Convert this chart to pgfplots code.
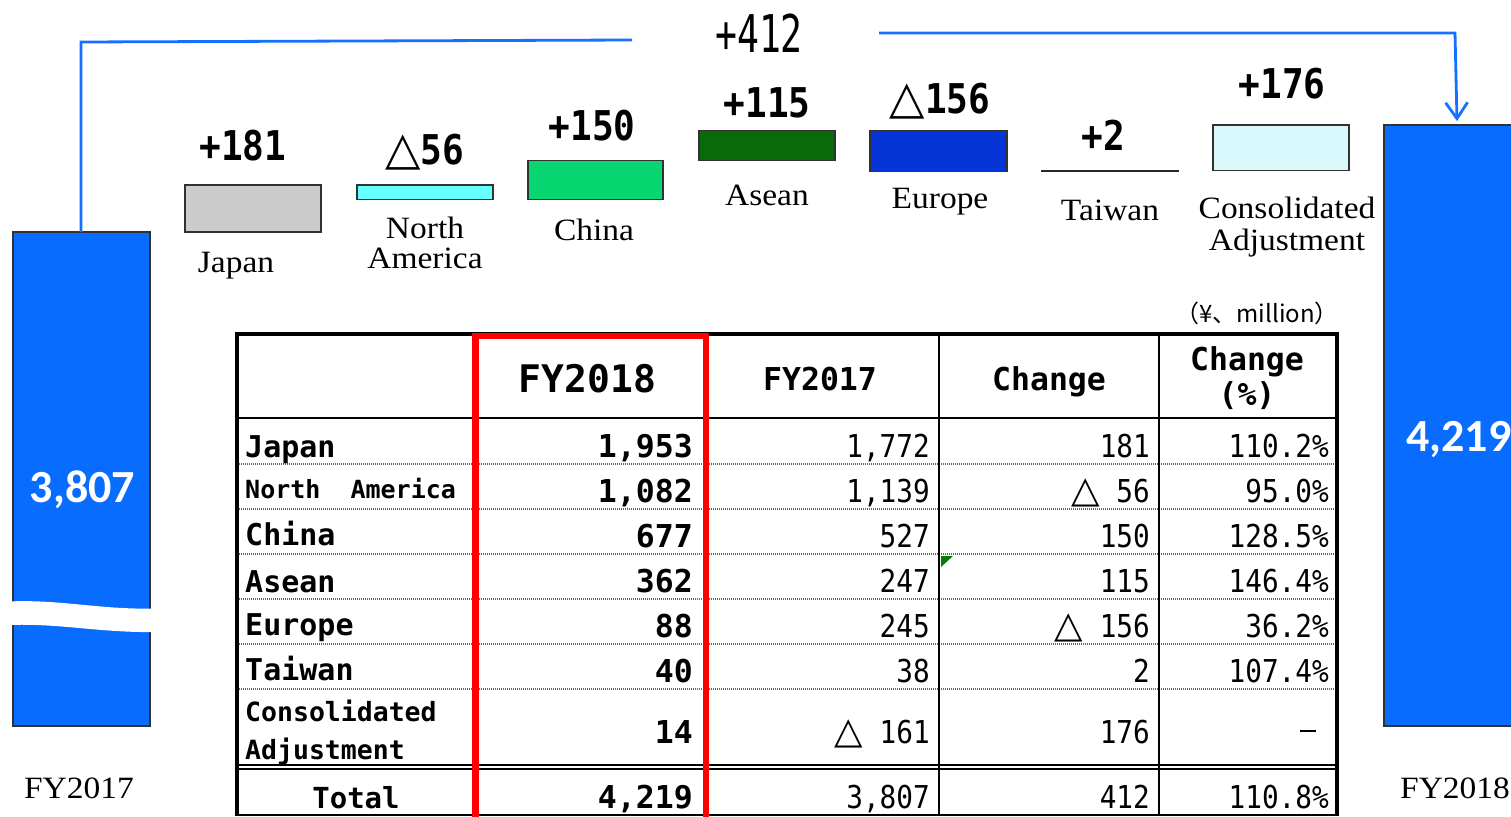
\documentclass[border=0pt]{standalone}
\usepackage{fontspec}
\usepackage{pgfplots}
\pgfplotsset{compat=1.18}
\usetikzlibrary{arrows.meta}
\setmainfont{Liberation Serif}[FakeStretch=1.08]
\newfontfamily\tmono{DejaVu Sans Mono}
\newfontfamily\tmonoN{DejaVu Sans Mono}[FakeStretch=0.88]
\newfontfamily\narrow{DejaVu Sans Mono}[FakeStretch=0.7]
\newfontfamily\djv{DejaVu Sans}
\newfontfamily\carl{Carlito}
\newfontfamily\jp{Noto Sans CJK JP}
\newcommand\fs[1]{\fontsize{#1}{#1}\selectfont}
\definecolor{cbig}{RGB}{8,108,255}
\definecolor{cjapan}{RGB}{204,204,204}
\definecolor{cna}{RGB}{102,255,255}
\definecolor{cchina}{RGB}{8,214,112}
\definecolor{casean}{RGB}{8,106,8}
\definecolor{ceurope}{RGB}{5,53,214}
\definecolor{cconsol}{RGB}{217,248,252}
\definecolor{cline}{RGB}{22,112,255}
\definecolor{bord}{RGB}{50,50,50}
\tikzset{
  v18/.style={anchor=base east, inner sep=0, font=\tmono\bfseries\fs{31.5}},
  v17/.style={anchor=base east, inner sep=0, font=\tmonoN\fs{31.5}},
  rl/.style={anchor=base west, inner sep=0},
  dotrule/.style={black!60, line width=2pt, dash pattern=on 1.2pt off 0.8pt},
  cat/.style={anchor=base, inner sep=0, font=\fs{31}},
  chg/.style={anchor=base, inner sep=0, font=\tmonoN\bfseries\fs{41}},
}
\newcommand\tri[1]{{\djv\mdseries\fs{#1}△}}
\begin{document}
\begin{tikzpicture}
% ---------- value axis: waterfall bars ----------
\begin{axis}[at={(0,0)}, anchor=south west, width=1511pt, height=816pt,
  scale only axis, xmin=0, xmax=1511, ymin=1558.3, ymax=4700.3, hide axis]
\addplot[fill=cbig, draw=bord, line width=1.2pt] coordinates {(13,1905) (150,1905) (150,3807) (13,3807)} -- cycle;
\addplot[fill=cjapan, draw=bord, line width=1.2pt] coordinates {(185,3807) (321,3807) (321,3988) (185,3988)} -- cycle;
\addplot[fill=cna, draw=bord, line width=1.2pt] coordinates {(357,3932) (493,3932) (493,3988) (357,3988)} -- cycle;
\addplot[fill=cchina, draw=bord, line width=1.2pt] coordinates {(528,3932) (663,3932) (663,4082) (528,4082)} -- cycle;
\addplot[fill=casean, draw=bord, line width=1.2pt] coordinates {(699,4082) (835,4082) (835,4197) (699,4197)} -- cycle;
\addplot[fill=ceurope, draw=bord, line width=1.2pt] coordinates {(870,4041) (1007,4041) (1007,4197) (870,4197)} -- cycle;
\addplot[fill=black!85, draw=black!85, line width=1.5pt] coordinates {(1042,4041) (1178,4041) (1178,4043) (1042,4043)} -- cycle;
\addplot[fill=cconsol, draw=bord, line width=1.2pt] coordinates {(1213,4043) (1349,4043) (1349,4219) (1213,4219)} -- cycle;
\addplot[fill=cbig, draw=bord, line width=1.2pt] coordinates {(1384,1905) (1525,1905) (1525,4219) (1384,4219)} -- cycle;
\end{axis}
% ---------- pixel axis: annotations and table ----------
\begin{axis}[at={(0,0)}, anchor=south west, width=1511pt, height=816pt,
  scale only axis, xmin=0, xmax=1511, ymin=0, ymax=816, y dir=reverse,
  hide axis, clip=false]
% axis break
\fill[white] (8,601.5) .. controls (60,599) and (100,610) .. (157,608.5) -- (157,632) .. controls (100,633) and (60,623) .. (8,625) -- cycle;
% connector lines
\draw[cline, line width=2.8pt, line join=miter] (81,232) -- (81,42) -- (632,40);
\draw[cline, line width=2.8pt, line join=miter, -{Straight Barb[length=16pt,width=22pt]}] (879,33) -- (1455,33) -- (1457,121);
\node[anchor=base, inner sep=0] at (759,52) {\narrow\fs{52}+412};
% change labels
\node[chg] at (243,160) {+181};
\node[chg] at (425,164) {\tri{46}56};
\node[chg] at (592,140) {+150};
\node[chg] at (767,117) {+115};
\node[chg] at (940,113) {\tri{46}156};
\node[chg] at (1103,150) {+2};
\node[chg] at (1282,98) {+176};
% category labels
\node[cat] at (236,272) {Japan};
\node[cat] at (425,238) {North};
\node[cat] at (425,268) {America};
\node[cat] at (594,240) {China};
\node[cat] at (767,205) {Asean};
\node[cat] at (940,208) {Europe};
\node[cat] at (1110,220) {Taiwan};
\node[cat] at (1287,218) {Consolidated};
\node[cat] at (1287,250) {Adjustment};
\node[cat] at (79,798) {FY2017};
\node[cat] at (1455,798) {FY2018};
% bar totals
\node[anchor=center, inner sep=0, white] at (82.5,490) {\carl\bfseries\fs{46}3,807};
\node[anchor=center, inner sep=0, white] at (1459,440) {\carl\bfseries\fs{46}4,219};
% unit
\node[anchor=center, inner sep=0] at (1257,313) {\jp\fs{24}（¥、million）};
% table rules
\draw[dotrule] (237,464) -- (1336,464);
\draw[dotrule] (237,509) -- (1336,509);
\draw[dotrule] (237,554) -- (1336,554);
\draw[dotrule] (237,599) -- (1336,599);
\draw[dotrule] (237,644) -- (1336,644);
\draw[dotrule] (237,689) -- (1336,689);
\draw[line width=2.3pt] (237,418) -- (1336,418);
\draw[line width=1.8pt] (237,765) -- (1336,765);
\draw[line width=1.8pt] (237,769) -- (1336,769);
\draw[line width=2pt] (237,815) -- (1336,815);
\draw[line width=2.5pt] (939,334) -- (939,815);
\draw[line width=2.5pt] (1159,334) -- (1159,815);
\draw[line width=3.2pt] (237,332) -- (237,816);
\draw[line width=4pt] (1336.5,332) -- (1336.5,816);
\draw[line width=4.2pt] (235.5,334) -- (1338.5,334);
\draw[red, line width=6.5pt, line join=miter] (475.5,822) -- (475.5,336) -- (706,336) -- (706,822);
\fill[green!50!black] (941,556) -- (953,556) -- (941,567) -- cycle;
% header
\node[anchor=base, inner sep=0] at (587.5,392) {\tmono\bfseries\fs{38}FY2018};
\node[anchor=base, inner sep=0] at (820,390) {\tmono\bfseries\fs{31.5}FY2017};
\node[anchor=base, inner sep=0] at (1049,390) {\tmono\bfseries\fs{31.5}Change};
\node[anchor=base, inner sep=0] at (1247,370) {\tmono\bfseries\fs{31.5}Change};
\node[anchor=base, inner sep=0] at (1247,405) {\tmono\bfseries\fs{31.5}(\%)};
% row labels
\node[rl] at (245,457) {\tmono\bfseries\fs{30}Japan};
\node[rl] at (245,498) {\tmono\bfseries\fs{25}North\ \ America};
\node[rl] at (245,545) {\tmono\bfseries\fs{30}China};
\node[rl] at (245,592) {\tmono\bfseries\fs{30}Asean};
\node[rl] at (245,635) {\tmono\bfseries\fs{30}Europe};
\node[rl] at (245,680) {\tmono\bfseries\fs{30}Taiwan};
\node[rl] at (245,721) {\tmono\bfseries\fs{26.5}Consolidated};
\node[rl] at (245,759) {\tmono\bfseries\fs{26.5}Adjustment};
\node[anchor=base, inner sep=0] at (356,808) {\tmono\bfseries\fs{29}Total};
% FY2018 column
\node[v18] at (693,457) {1,953};
\node[v18] at (693,502) {1,082};
\node[v18] at (693,547) {677};
\node[v18] at (693,592) {362};
\node[v18] at (693,637) {88};
\node[v18] at (693,682) {40};
\node[v18] at (693,743) {14};
\node[v18] at (693,808) {4,219};
% FY2017 column
\node[v17] at (930,457) {1,772};
\node[v17] at (930,502) {1,139};
\node[v17] at (930,547) {527};
\node[v17] at (930,592) {247};
\node[v17] at (930,637) {245};
\node[v17] at (930,682) {38};
\node[v17] at (930,743) {\tri{37}~161};
\node[v17] at (930,808) {3,807};
% Change column
\node[v17] at (1150,457) {181};
\node[v17] at (1150,502) {\tri{37}~56};
\node[v17] at (1150,547) {150};
\node[v17] at (1150,592) {115};
\node[v17] at (1150,637) {\tri{37}~156};
\node[v17] at (1150,682) {2};
\node[v17] at (1150,743) {176};
\node[v17] at (1150,808) {412};
% Change % column
\node[v17] at (1329,457) {110.2\%};
\node[v17] at (1329,502) {95.0\%};
\node[v17] at (1329,547) {128.5\%};
\node[v17] at (1329,592) {146.4\%};
\node[v17] at (1329,637) {36.2\%};
\node[v17] at (1329,682) {107.4\%};
\node[v17] at (1329,808) {110.8\%};
\draw[line width=2pt] (1300,731) -- (1316,731);
\end{axis}
\pgfresetboundingbox
\useasboundingbox (0,0) rectangle (1511pt,816pt);
\end{tikzpicture}
\end{document}
